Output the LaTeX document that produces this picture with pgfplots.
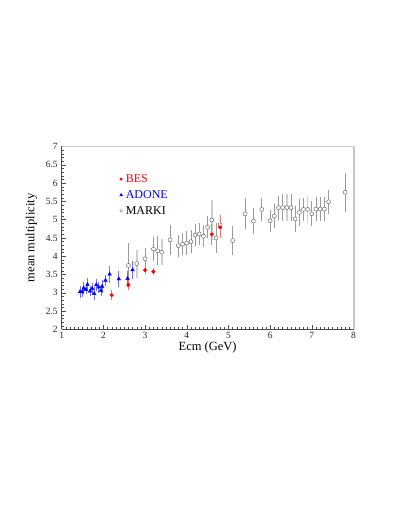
\documentclass[border=0pt]{standalone}
\usepackage{fontspec}
\setmainfont{Liberation Serif}
\usepackage{pgfplots}
\pgfplotsset{compat=1.18}
\definecolor{markgray}{HTML}{6E6E6E}
\definecolor{bargray}{HTML}{9A9A9A}
\definecolor{barlight}{HTML}{CFCFCF}
\definecolor{barblue}{HTML}{6F6FFF}
\definecolor{barred}{HTML}{FF7070}
\definecolor{framegray}{HTML}{C8C8C8}

\begin{document}
\begin{tikzpicture}
\path[use as bounding box] (0pt,0pt) rectangle (402pt,521pt);
\begin{axis}[
  at={(61.7pt,191.5pt)}, anchor=south west,
  width=291.8pt, height=183pt, scale only axis,
  xmin=1, xmax=8, ymin=2, ymax=7,
  xtick={1,...,8}, ytick={2,2.5,...,7},
  minor x tick num=9, minor y tick num=4,
  axis x line*=bottom, axis y line*=left,
  axis line style={color=black!70, line width=0.5pt},
  tick style={color=black!70, line width=0.4pt},
  tick align=inside, major tick length=4pt, minor tick length=2pt,
  /pgf/number format/assume math mode=true,
  /pgf/number format/fixed,
  tick label style={font=\fontsize{9.5}{11}\selectfont, color=black!85},
  yticklabel style={xshift=-0.5pt},
  xticklabel style={yshift=1pt},
  label style={font=\fontsize{12.5}{14}\selectfont},
  xlabel={Ecm (GeV)}, ylabel={mean multiplicity},
  xlabel style={at={(axis description cs:0.5,-0.05)}, anchor=north},
  ylabel style={at={(axis description cs:-0.072,0.5)}, anchor=south},
  error bars/y dir=both, error bars/y explicit,
  error bars/error mark=none,
  legend style={at={(rel axis cs:0.192,0.735)}, anchor=west, draw=none, fill=none,
    font=\fontsize{12}{14}\selectfont, row sep=3.5pt, inner sep=0pt,
    nodes={inner sep=1.5pt}},
  legend cell align=left,
  legend image code/.code={\path[#1] plot coordinates {(3pt,0pt)};\path (0pt,0pt) (6pt,0pt);},
  clip=false,
]
\draw[framegray, line width=0.5pt] (rel axis cs:0,1) -- (rel axis cs:1,1);
\draw[framegray, line width=2pt] (rel axis cs:1,0) -- (rel axis cs:1,1);

\addlegendimage{only marks, mark=*, color=red, mark size=1.3pt}
\addlegendentry{\textcolor{red}{BES}}
\addlegendimage{only marks, mark=triangle*, color=blue, mark size=1.6pt}
\addlegendentry{\textcolor{blue}{ADONE}}
\addlegendimage{only marks, mark=*, draw=markgray, fill=white, mark size=1.4pt}
\addlegendentry{MARKI}

% MARKI, thin grey error bars
\addplot[only marks, mark=*, mark size=2pt, mark options={draw=markgray, fill=white, line width=0.5pt},
  error bars/error bar style={bargray, line width=0.7pt}, forget plot]
  table[x=x, y=y, y error=e] {
x y e
2.6 3.75 0.62
3.0 3.93 0.30
3.2 4.20 0.32
3.3 4.15 0.40
3.6 4.45 0.41
3.8 4.29 0.30
3.9 4.33 0.30
4.0 4.36 0.33
4.1 4.40 0.32
4.2 4.58 0.31
4.3 4.61 0.30
4.4 4.55 0.30
4.5 4.79 0.30
4.7 4.50 0.40
4.8 4.86 0.28
5.1 4.43 0.40
5.4 5.16 0.42
5.6 4.96 0.35
5.8 5.28 0.32
6.0 4.97 0.30
6.1 5.10 0.34
6.2 5.33 0.33
6.3 5.33 0.36
6.5 5.33 0.36
6.6 5.02 0.35
6.7 5.20 0.36
6.8 5.28 0.32
7.0 5.16 0.34
7.1 5.29 0.32
7.2 5.29 0.32
7.3 5.29 0.32
7.4 5.49 0.33
7.8 5.75 0.53
};

% MARKI, wide light error bars
\addplot[only marks, mark=*, mark size=2pt, mark options={draw=markgray, fill=white, line width=0.5pt},
  error bars/error bar style={barlight, line width=1.6pt}, forget plot]
  table[x=x, y=y, y error=e] {
x y e
2.8 3.80 0.38
3.4 4.11 0.36
4.6 4.99 0.55
6.4 5.33 0.36
6.9 5.28 0.38
};

% ADONE
\addplot[only marks, mark=triangle*, mark size=2.1pt, color=blue,
  error bars/error bar style={barblue, line width=0.7pt}, forget plot]
  table[x=x, y=y, y error=e] {
x y e
1.44 3.03 0.16
1.49 3.03 0.13
1.53 3.13 0.16
1.58 3.09 0.13
1.62 3.23 0.18
1.68 3.05 0.13
1.73 3.12 0.15
1.78 2.98 0.17
1.83 3.22 0.17
1.89 3.16 0.15
1.94 3.06 0.14
1.97 3.18 0.18
2.05 3.34 0.16
2.15 3.51 0.23
2.37 3.38 0.22
2.58 3.39 0.22
2.70 3.63 0.24
};

% BES
\addplot[only marks, mark=*, mark size=1.8pt, color=red,
  error bars/error bar style={barred, line width=0.8pt}, forget plot]
  table[x=x, y=y, y error=e] {
x y e
2.2 2.94 0.14
2.6 3.22 0.13
3.0 3.62 0.10
3.2 3.58 0.10
4.6 4.60 0.28
4.8 4.79 0.28
};
\end{axis}
\end{tikzpicture}
\end{document}
